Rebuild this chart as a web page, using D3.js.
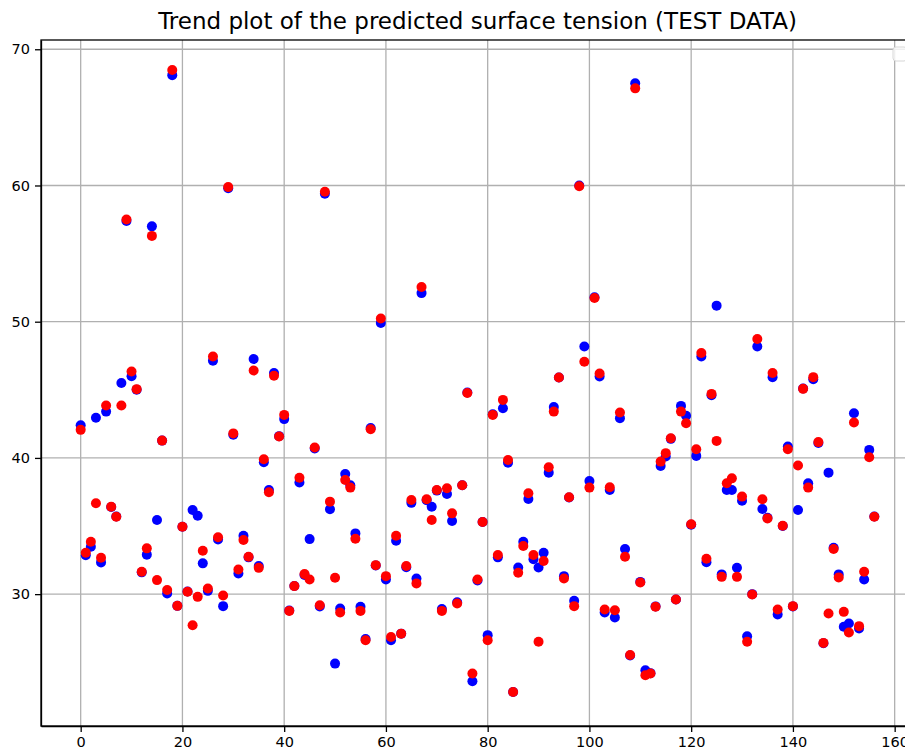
<!DOCTYPE html>
<html lang="en">
<head>
<meta charset="UTF-8">
<title>Trend plot of the predicted surface tension (TEST DATA)</title>
<style>
    body { margin: 0; padding: 0; background: #fff; }
    svg { display: block; font-family: 'DejaVu Sans', sans-serif; }
    .grid line { stroke: #b0b0b0; stroke-width: 1.3px; }
    .axis path, .axis line { stroke: #000; stroke-width: 1.3px; }
    .axis text { font-size: 14.5px; fill: #000; font-family: 'DejaVu Sans', sans-serif; }
</style>
</head>
<body>
<div id="chart"></div>
<script src="https://d3js.org/d3.v7.min.js"></script>
<script>
    // actual (blue) and predicted (red) surface tension, test samples 0..156
    const actual = [
        42.4, 32.85, 33.48, 42.95, 32.33, 43.4, 36.4, 35.7, 45.5, 57.4,
        46.0, 45.0, 31.6, 32.9, 57.0, 35.44, 41.27, 30.05, 68.1, 29.14,
        34.95, 30.2, 36.18, 35.76, 32.26, 30.24, 47.13, 34.02, 29.12, 59.8,
        41.7, 31.52, 34.29, 32.7, 47.26, 32.06, 39.68, 37.65, 46.23, 41.6,
        42.85, 28.8, 30.6, 38.2, 31.4, 34.04, 40.7, 29.1, 59.4, 36.23,
        24.9, 28.95, 38.82, 38.0, 34.46, 29.07, 26.7, 42.2, 32.1, 49.9,
        31.08, 26.62, 33.92, 27.1, 31.98, 36.7, 31.15, 52.1, 36.9, 36.42,
        37.6, 28.9, 37.35, 35.37, 29.4, 38.0, 44.8, 23.6, 31.0, 35.3,
        26.99, 43.2, 32.7, 43.65, 39.65, 22.82, 31.96, 33.85, 36.99, 32.57,
        31.96, 33.04, 38.92, 43.73, 45.9, 31.32, 37.1, 29.51, 60.0, 48.18,
        38.31, 51.8, 45.98, 28.65, 37.65, 28.29, 42.92, 33.31, 25.5, 67.5,
        30.9, 24.41, 24.2, 29.1, 39.41, 40.1, 41.4, 29.6, 43.82, 43.09,
        35.1, 40.15, 47.45, 32.35, 44.6, 51.18, 31.45, 37.65, 37.65, 31.94,
        36.86, 26.91, 30.0, 48.18, 36.25, 35.6, 45.93, 28.5, 35.0, 40.83,
        29.1, 36.18, 45.1, 38.14, 45.78, 41.1, 26.4, 38.92, 33.4, 31.45,
        27.6, 27.85, 43.28, 27.48, 31.08, 40.59, 35.7
    ];
    const predicted = [
        42.06, 33.04, 33.85, 36.67, 32.67, 43.85, 36.42, 35.68, 43.85, 57.5,
        46.35, 45.05, 31.64, 33.36, 56.3, 31.03, 41.27, 30.3, 68.48, 29.14,
        34.95, 30.17, 27.72, 29.8, 33.18, 30.42, 47.45, 34.17, 29.9, 59.88,
        41.8, 31.81, 33.97, 32.74, 46.42, 31.93, 39.9, 37.48, 46.03, 41.57,
        43.16, 28.77, 30.59, 38.55, 31.47, 31.08, 40.76, 29.19, 59.54, 36.79,
        31.2, 28.65, 38.38, 37.82, 34.07, 28.77, 26.62, 42.1, 32.13, 50.24,
        31.32, 26.86, 34.29, 27.1, 32.06, 36.91, 30.79, 52.55, 36.96, 35.44,
        37.65, 28.77, 37.77, 35.93, 29.31, 38.0, 44.76, 24.17, 31.08, 35.3,
        26.62, 43.16, 32.87, 44.26, 39.85, 22.82, 31.57, 33.53, 37.4, 32.87,
        26.5, 32.43, 39.31, 43.4, 45.9, 31.15, 37.11, 29.12, 59.95, 47.06,
        37.82, 51.74, 46.2, 28.87, 37.85, 28.82, 43.33, 32.74, 25.53, 67.13,
        30.86, 24.04, 24.17, 29.07, 39.73, 40.35, 41.45, 29.61, 43.4, 42.55,
        35.13, 40.64, 47.7, 32.6, 44.7, 41.25, 31.27, 38.14, 38.5, 31.27,
        37.16, 26.5, 29.98, 48.73, 36.96, 35.56, 46.23, 28.87, 35.02, 40.64,
        29.12, 39.44, 45.07, 37.82, 45.93, 41.16, 26.42, 28.58, 33.31, 31.23,
        28.7, 27.18, 42.6, 27.65, 31.64, 40.05, 35.68
    ];
    const xTicks = [0, 20, 40, 60, 80, 100, 120, 140, 160];
    const yTicks = [30, 40, 50, 60, 70];
    const title = "Trend plot of the predicted surface tension (TEST DATA)";

    const width = 905;
    const height = 750;
    // plot frame runs past the right edge of the picture, as in the original
    const plotLeft = 41, plotRight = 914, plotTop = 40, plotBottom = 726;

    const x = d3.scaleLinear().domain([-7.8, 163.8]).range([plotLeft, plotRight]);
    const y = d3.scaleLinear().domain([20.32, 70.68]).range([plotBottom, plotTop]);

    const svg = d3.select("#chart")
        .append("svg")
        .attr("width", width)
        .attr("height", height);

    svg.append("rect")
        .attr("width", width)
        .attr("height", height)
        .attr("fill", "#fff");

    // grid
    const grid = svg.append("g").attr("class", "grid");
    grid.selectAll(".gx")
        .data(xTicks)
        .enter().append("line")
        .attr("x1", d => x(d)).attr("x2", d => x(d))
        .attr("y1", plotTop).attr("y2", plotBottom);
    grid.selectAll(".gy")
        .data(yTicks)
        .enter().append("line")
        .attr("x1", plotLeft).attr("x2", plotRight)
        .attr("y1", d => y(d)).attr("y2", d => y(d));

    // points: actual first, predicted on top
    const idx = d3.range(actual.length);
    svg.append("g")
        .selectAll("circle")
        .data(idx)
        .enter().append("circle")
        .attr("cx", i => x(i))
        .attr("cy", i => y(actual[i]))
        .attr("r", 5)
        .attr("fill", "#0000ff");
    svg.append("g")
        .selectAll("circle")
        .data(idx)
        .enter().append("circle")
        .attr("cx", i => x(i))
        .attr("cy", i => y(predicted[i]))
        .attr("r", 5)
        .attr("fill", "#ff0000");

    // axes
    svg.append("g")
        .attr("class", "axis")
        .attr("transform", `translate(0,${plotBottom})`)
        .call(d3.axisBottom(x).tickValues(xTicks).tickSize(6).tickPadding(5).tickSizeOuter(0));
    svg.append("g")
        .attr("class", "axis")
        .attr("transform", `translate(${plotLeft},0)`)
        .call(d3.axisLeft(y).tickValues(yTicks).tickSize(6).tickPadding(5).tickSizeOuter(0));

    // frame
    svg.append("rect")
        .attr("x", plotLeft).attr("y", plotTop)
        .attr("width", plotRight - plotLeft).attr("height", plotBottom - plotTop)
        .attr("fill", "none")
        .attr("stroke", "#000")
        .attr("stroke-width", 1.3);

    // empty legend box in the corner
    svg.append("rect")
        .attr("x", plotRight - 21).attr("y", plotTop + 7)
        .attr("width", 14).attr("height", 14)
        .attr("rx", 3)
        .attr("fill", "#fff")
        .attr("fill-opacity", 0.8)
        .attr("stroke", "#d6d6d6");

    svg.append("text")
        .attr("x", (plotLeft + plotRight) / 2)
        .attr("y", 29)
        .attr("text-anchor", "middle")
        .style("font-size", "23px")
        .text(title);
</script>
</body>
</html>
